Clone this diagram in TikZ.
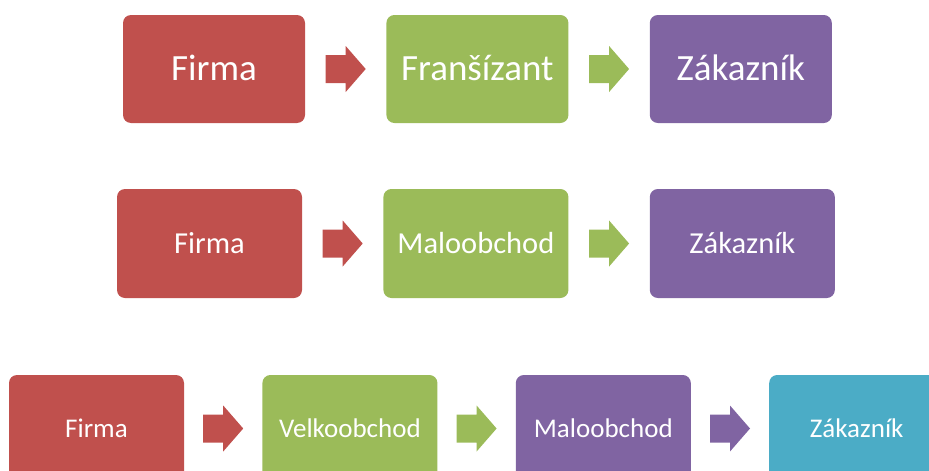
\documentclass[tikz,border=0pt]{standalone}
\usepackage{fontspec}
\setmainfont{Carlito}
\usetikzlibrary{positioning,calc}
\definecolor{offred}{HTML}{C0504D}
\definecolor{offgreen}{HTML}{9BBB59}
\definecolor{offpurple}{HTML}{8064A2}
\definecolor{offblue}{HTML}{4BACC6}

\begin{document}
\begin{tikzpicture}[
    x=1pt, y=-1pt,
    node distance=81pt,
    block/.style={rectangle, rounded corners=8pt, text=white, inner sep=0pt,
                  text depth=0pt},
    topbox/.style={block, minimum width=182pt, minimum height=108pt,
                   text height=23.5pt, font=\fontsize{37}{40}\selectfont},
    midbox/.style={block, minimum width=185pt, minimum height=109pt,
                   text height=19.5pt, font=\fontsize{30.5}{34}\selectfont},
    lowbox/.style={block, minimum width=175pt, minimum height=107pt,
                   text height=17.5pt, font=\fontsize{27}{30}\selectfont},
    barrow/.style={to path={($(\tikztostart)!0.5!(\tikztotarget)$)
                   +(-20,-14) -- +(0,-14) -- +(0,-23) -- +(20,0)
                   -- +(0,23) -- +(0,14) -- +(-20,14) -- cycle}}
]
  \clip (0,0) rectangle (929,471);

  % Row 1: franchise
  \node[topbox, fill=offred] (firma1) at (214,69) {Firma};
  \node[topbox, fill=offgreen, right=of firma1] (fransizant) {Franšízant};
  \node[topbox, fill=offpurple, right=of fransizant] (zakaznik1) {Zákazník};

  % Row 2: retail
  \node[midbox, fill=offred] (firma2) at (209.5,243.5) {Firma};
  \node[midbox, fill=offgreen, right=of firma2] (malo2) {Maloobchod};
  \node[midbox, fill=offpurple, right=of malo2] (zakaznik2) {Zákazník};

  % Row 3: wholesale and retail
  \node[lowbox, fill=offred] (firma3) at (96.5,428.5) {Firma};
  \node[lowbox, fill=offgreen, right=78pt of firma3] (velko3) {Velkoobchod};
  \node[lowbox, fill=offpurple, right=78pt of velko3] (malo3) {Maloobchod};
  \node[lowbox, fill=offblue, right=78pt of malo3] (zakaznik3) {Zákazník};

  % Block arrows
  \fill[offred, barrow] (firma1.east) to (fransizant.west);
  \fill[offgreen, barrow] (fransizant.east) to (zakaznik1.west);
  \fill[offred, barrow] (firma2.east) to (malo2.west);
  \fill[offgreen, barrow] (malo2.east) to (zakaznik2.west);
  \fill[offred, barrow] (firma3.east) to (velko3.west);
  \fill[offgreen, barrow] (velko3.east) to (malo3.west);
  \fill[offpurple, barrow] (malo3.east) to (zakaznik3.west);
\end{tikzpicture}
\end{document}
